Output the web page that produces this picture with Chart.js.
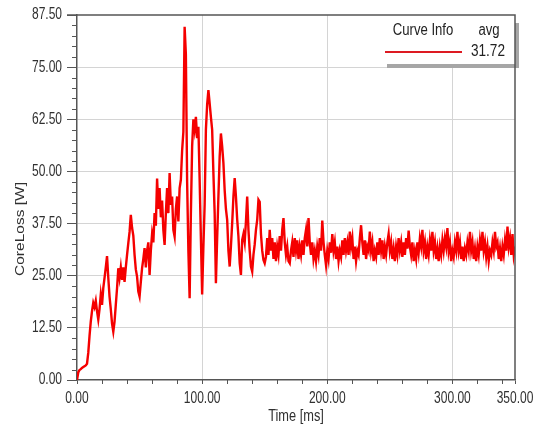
<!DOCTYPE html>
<html><head><meta charset="utf-8">
<script src="https://cdn.jsdelivr.net/npm/chart.js@4.4.1/dist/chart.umd.min.js"></script>
<style>html,body{margin:0;padding:0;background:#fff;}#wrap{position:relative;width:543px;height:428px;}</style>
</head><body><div id="wrap"><canvas id="c" width="543" height="428"></canvas></div>
<script>
// ---- data ----
const timeStepMs = 1;            // one sample per millisecond, starting at 0 ms
const xTickValues = [0, 100, 200, 300, 350];
const yTickValues = [0, 12.5, 25, 37.5, 50, 62.5, 75, 87.5];
const xTitle = 'Time [ms]';
const yTitle = 'CoreLoss [W]';
const legendHeader = 'Curve Info';
const legendStatName = 'avg';
const legendStatValue = '31.72';

// 0 .. 150 ms
const coreLossTransient = [
  0, 1.8, 2.4, 2.6, 2.9, 3.1, 3.3, 3.5, 3.9, 6.5,
  10.5, 14, 16.5, 18.5, 17.5, 19, 16.5, 14.5, 17, 20.5,
  18, 22, 24.5, 27, 29.7, 24.5, 20, 17, 13.5, 11.6,
  14, 18, 22, 26.8, 24.5, 27, 24, 27, 23.5, 27,
  30, 32.8, 35.5, 39.6, 36.5, 34.6, 30, 26.5, 24.8, 21.2,
  20, 23.5, 26.8, 29, 31.6, 27, 31, 33, 25.2, 31,
  35, 33, 40, 37, 48.3, 41, 46, 39, 43, 36,
  32.4, 40, 46, 40, 49.6, 42, 44, 36, 34.4, 41,
  44, 38, 46, 48, 55, 59.5, 84.7, 78, 47.5, 31,
  19.6, 40, 56, 62.5, 60, 63.1, 58, 60.7, 48, 34,
  20.5, 32, 42, 60, 66, 69.5, 66.3, 63, 60, 49.6,
  40, 23.2, 34, 44, 53.5, 59.1, 56, 52, 45.5, 41,
  38.4, 31, 27.2, 32, 37.6, 44, 48.4, 44, 38.5, 34.4,
  28, 25.2, 33.6, 35, 33, 38, 44, 36, 31, 27.2,
  26, 30, 32.5, 36, 38.4, 43.2, 42.7, 35, 31, 28.8,
  28
];
// 151 .. 350 ms
const coreLossSteady = [
  29.5, 34, 30, 36, 31, 34, 29, 33, 28.5, 32,
  30, 34.5, 31, 36, 38.8, 33, 30, 32, 28.5, 28,
  31, 33, 29.5, 34, 31, 33.5, 29, 32, 30, 33.5,
  30, 34, 36, 32, 38.8, 33, 30, 33, 29, 31,
  28.5, 32, 30, 34, 31, 38.2, 33, 30, 27.5, 31,
  29, 33, 30.5, 35, 31, 33, 29, 32, 28.5, 31,
  29.5, 33.5, 30, 34, 31, 33, 30, 35.6, 32, 34,
  29, 32, 28.5, 31, 30, 34, 37.1, 33, 30, 33.5,
  29, 32, 31, 35.6, 31, 33, 28.5, 31, 29.5, 33,
  30, 34, 31, 33.5, 29, 32, 30, 33, 35, 31,
  33, 29, 31.5, 28.5, 32, 30, 34, 31, 33, 29.5,
  33, 30, 34, 31.5, 35.8, 32, 30, 33, 28.5, 31,
  29, 33, 30.5, 34, 32, 36, 31, 33, 29, 32,
  30, 33.5, 31, 35.5, 31, 33, 29, 31.5, 28.5, 32,
  30, 33.5, 31, 34, 32, 36.4, 31, 33, 28.5, 31,
  29.5, 33, 31, 35.5, 31, 33, 29, 32, 28.5, 31.5,
  30, 33, 31, 35.5, 31, 33, 29, 31.5, 28.5, 32,
  30, 33.5, 31, 35.5, 31, 33, 29.5, 32, 28.5, 31,
  30, 33, 31, 35.5, 32, 33, 29, 31.5, 28.5, 32,
  30, 33.5, 31, 36.8, 32, 34, 30, 35, 30, 32
];

// ---- build chart ----
const coreLoss = coreLossTransient.concat(coreLossSteady);
const points = coreLoss.map((v, i) => ({ x: i * timeStepMs, y: v }));

const FONT = "'Liberation Sans',Arial,sans-serif";
const TEXT = '#303030';
const FRAME = '#555555';
const GRID = '#d4d4d4';
const RED = 'rgb(245,0,0)';
const SQUEEZE = 0.75;

function narrowText(ctx, text, x, y, align, sx, sy) {
  ctx.save();
  ctx.translate(x, y);
  ctx.scale(sx, sy);
  ctx.textAlign = align;
  ctx.fillText(text, 0, 0);
  ctx.restore();
}

const decor = {
  id: 'decor',
  beforeDatasetsDraw(chart) {
    const { ctx, chartArea: a, scales: { x, y } } = chart;
    ctx.save();
    ctx.strokeStyle = FRAME;
    ctx.lineWidth = 1;
    for (let k = 1; k < 35; k++) {
      if (k % 5 === 0) continue;
      const py = Math.round(y.getPixelForValue(k * 2.5)) + 0.5;
      ctx.beginPath(); ctx.moveTo(a.left - 5, py); ctx.lineTo(a.left, py); ctx.stroke();
    }
    for (let t = 20; t < 350; t += 20) {
      const px = Math.round(x.getPixelForValue(t)) + 0.5;
      ctx.beginPath(); ctx.moveTo(px, a.bottom); ctx.lineTo(px, a.bottom + 4); ctx.stroke();
    }
    ctx.restore();
  },
  afterDraw(chart) {
    const { ctx, chartArea: a, scales: { x, y } } = chart;
    ctx.save();
    // tick labels from the scales
    ctx.fillStyle = TEXT;
    ctx.font = '16px ' + FONT;
    ctx.textBaseline = 'middle';
    y.ticks.forEach(t => narrowText(ctx, t.value.toFixed(2), 62, y.getPixelForValue(t.value), 'right', SQUEEZE, 1));
    x.ticks.forEach(t => narrowText(ctx, t.value.toFixed(2), x.getPixelForValue(t.value), 399, 'center', SQUEEZE, 1));
    // legend box with shadow
    ctx.fillStyle = '#a6a6a6';
    ctx.fillRect(387, 23, a.right + 4 - 387, 45);
    ctx.fillStyle = '#ffffff';
    ctx.fillRect(380, a.top, a.right - 380, 49);
    // frame top and right
    ctx.strokeStyle = FRAME;
    ctx.lineWidth = 1.5;
    ctx.beginPath();
    ctx.moveTo(a.left - 10, a.top); ctx.lineTo(a.right, a.top); ctx.lineTo(a.right, a.bottom);
    ctx.stroke();
    // legend text
    ctx.fillStyle = '#222';
    narrowText(ctx, legendHeader, 423, 31, 'center', 0.82, 1);
    narrowText(ctx, legendStatName, 489, 31, 'center', 0.82, 1);
    narrowText(ctx, legendStatValue, 505, 52, 'right', 0.85, 1);
    ctx.strokeStyle = '#dd1a22';
    ctx.lineWidth = 2;
    ctx.beginPath(); ctx.moveTo(385, 52); ctx.lineTo(462, 52); ctx.stroke();
    // axis titles
    ctx.fillStyle = TEXT;
    narrowText(ctx, xTitle, (a.left + a.right) / 2, 417, 'center', 0.8, 1);
    ctx.translate(21, 229);
    ctx.rotate(-Math.PI / 2);
    ctx.font = '15.5px ' + FONT;
    narrowText(ctx, yTitle, 0, 0, 'center', 1, 0.8);
    ctx.restore();
  }
};

new Chart(document.getElementById('c'), {
  type: 'line',
  data: {
    datasets: [{
      data: points,
      borderColor: RED,
      borderWidth: 2.4,
      pointRadius: 0,
      tension: 0,
      fill: false
    }]
  },
  options: {
    responsive: false,
    animation: false,
    devicePixelRatio: 1,
    layout: { padding: { left: 0, top: 15, right: 28, bottom: 0 } },
    plugins: { legend: { display: false }, tooltip: { enabled: false } },
    scales: {
      x: {
        type: 'linear', min: 0, max: 350,
        afterBuildTicks: s => { s.ticks = xTickValues.map(v => ({ value: v })); },
        afterFit: s => { s.height = 48; },
        grid: {
          color: c => (c.tick && (c.tick.value === 0 || c.tick.value === 350)) ? 'rgba(0,0,0,0)' : GRID,
          lineWidth: 1, tickLength: 4, tickColor: FRAME, drawTicks: true
        },
        border: { color: FRAME, width: 1.5 },
        ticks: { display: false, autoSkip: false, maxRotation: 0 }
      },
      y: {
        type: 'linear', min: 0, max: 87.5,
        afterBuildTicks: s => { s.ticks = yTickValues.map(v => ({ value: v })); },
        afterFit: s => { s.width = 77; },
        grid: {
          color: c => (c.tick && (c.tick.value === 0 || c.tick.value === 87.5)) ? 'rgba(0,0,0,0)' : GRID,
          lineWidth: 1, tickLength: 10, tickColor: FRAME, drawTicks: true
        },
        border: { color: FRAME, width: 1.5 },
        ticks: { display: false }
      }
    }
  },
  plugins: [decor]
});
</script>
</body></html>
